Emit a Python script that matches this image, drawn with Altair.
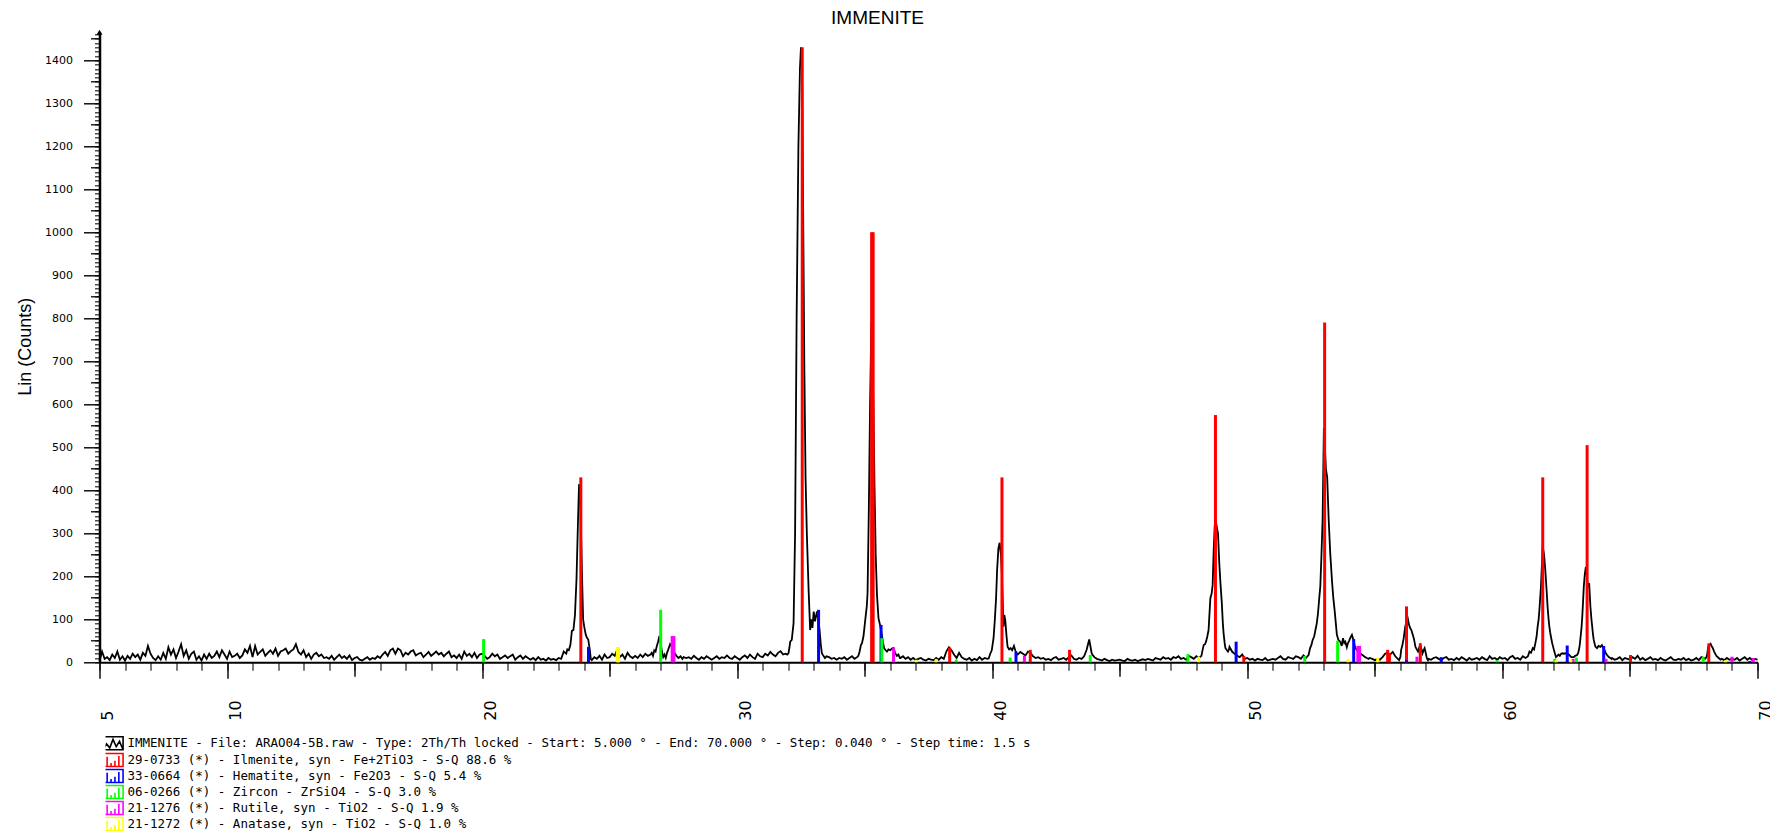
import altair as alt
import pandas as pd

N = None

# ---------------- texts ----------------
title_text = "IMMENITE"
y_title = "Lin (Counts)"
scan_label = ("IMMENITE - File: ARAO04-5B.raw - Type: 2Th/Th locked - Start: 5.000 ° - "
              "End: 70.000 ° - Step: 0.040 ° - Step time: 1.5 s")
phase_labels = [
    "29-0733 (*) - Ilmenite, syn - Fe+2TiO3 - S-Q 88.6 %",
    "33-0664 (*) - Hematite, syn - Fe2O3 - S-Q 5.4 %",
    "06-0266 (*) - Zircon - ZrSiO4 - S-Q 3.0 %",
    "21-1276 (*) - Rutile, syn - TiO2 - S-Q 1.9 %",
    "21-1272 (*) - Anatase, syn - TiO2 - S-Q 1.0 %",
]
phase_colors = ["#ff0000", "#0000ff", "#00ff00", "#ff00ff", "#ffff00"]

x_label_values = [5, 10, 20, 30, 40, 50, 60, 70]
y_label_values = [0, 100, 200, 300, 400, 500, 600, 700, 800, 900, 1000, 1100, 1200, 1300, 1400]

# ---------------- measured pattern: background read at 0.1 deg (None = see peak tables) ----------------
bg_start = 5.0
bg_step = 0.1
bg_counts = [
    3, 25, 8, 12, 5, 18, 10, 25, 6, 14,          # 5
    4, 15, 8, 20, 12, 18, 6, 22, 15, 38,         # 6
    20, 10, 5, 14, 6, 22, 8, 35, 18, 30,         # 7
    10, 25, 42, 15, 28, 8, 20, 25, 6, 14,        # 8
    4, 18, 8, 20, 10, 15, 25, 12, 28, 18,        # 9
    8, 25, 12, 15, 20, 10, 16, 30, 22, 38,       # 10
    12, 38, 18, 24, 30, 15, 22, 28, 20, 32,      # 11
    15, 25, 28, 32, 20, 26, 30, 42, 24, 18,      # 12
    28, 12, 20, 8, 18, 22, 14, 18, 10, 12,       # 13
    8, 15, 6, 12, 18, 10, 14, 8, 16, 5,          # 14
    10, 12, 6, 4, 8, 12, 6, 10, 8, 14,           # 15
    10, 18, 24, 15, 28, 32, 20, 32, 28, 14,      # 16
    22, 18, 25, 28, 16, 20, 22, 12, 18, 24,      # 17
    15, 20, 25, 18, 22, 14, 20, 25, 12, 16,      # 18
    10, 18, 8, 25, 15, 20, 12, 22, 10, 18,       # 19
    20, 15, 8, 12, 20, 14, 18, 8, 12, 16,        # 20
    10, 14, 18, 6, 12, 16, 8, 14, 10, 6,         # 21
    10, 5, 12, 6, 8, 4, 10, 6, 8, 5,             # 22
    10, 8, 25, N, N, N, N, N, N, N,              # 23
    N, N, N, 5, 12, 8, 15, 6, 18, 10,            # 24
    12, 20, 15, 30, 12, 18, 8, 22, 14, 10,       # 25
    15, 10, 18, 12, 20, 15, N, N, N, N,          # 26
    N, N, N, N, N, N, N, N, N, 12,               # 27
    10, 12, 8, 15, 10, 6, 12, 8, 14, 10,         # 28
    6, 10, 14, 8, 12, 10, 16, 10, 8, 14,         # 29
    10, 6, 12, 16, 10, 18, 12, 8, 20, 14,        # 30
    12, 20, 16, 24, 18, 14, 22, 26, 18, N,       # 31
    N, N, N, N, N, N, N, N, N, N,                # 32
    N, N, N, N, N, N, 12, 8, 10, 6,              # 33
    10, 8, 12, 6, 10, 14, 8, N, N, N,            # 34
    N, N, N, N, N, N, N, N, N, N,                # 35
    N, N, N, N, 10, 14, 8, 12, 6, 10,            # 36
    5, 8, 10, 6, 4, 8, 6, 5, 10, 6,              # 37
    12, 8, 25, 35, 28, 18, 10, 22, 12, 8,        # 38
    6, 10, 4, 8, 5, 12, 6, 10, N, N,             # 39
    N, N, N, N, N, N, N, N, N, N,                # 40
    N, 24, 20, 16, 25, 22, 14, 10, 12, 8,        # 41
    10, 6, 8, 5, 10, 12, 6, 8, 10, 6,            # 42
    12, 16, 8, 6, 10, 8, 14, 29, 53, 20,         # 43
    12, 8, 6, 4, 8, 5, 3, 6, 4, 5,               # 44
    6, 4, 3, 8, 5, 4, 6, 3, 5, 7,                # 45
    5, 8, 6, 4, 10, 8, 6, 12, 8, 10,             # 46
    6, 12, 10, 14, 8, 10, 6, 15, 12, 8,          # 47
    14, 10, N, N, N, N, N, N, N, N,              # 48
    N, N, N, 36, 25, 20, 15, 12, 18, 8,          # 49
    10, 6, 8, 4, 8, 6, 5, 10, 4, 6,              # 50
    8, 6, 10, 14, 8, 6, 12, 10, 8, 14,           # 51
    12, 8, 16, 10, N, N, N, N, N, N,             # 52
    N, N, N, N, N, N, N, N, N, N,                # 53
    N, N, N, N, N, N, N, N, 10, 8,               # 54
    5, 8, 6, 12, 20, 22, 18, 24, 14, N,          # 55
    N, N, N, N, N, N, N, N, N, N,                # 56
    N, 8, 6, 10, 12, 8, 5, 10, 12, 6,            # 57
    8, 5, 10, 6, 12, 8, 4, 10, 6, 8,             # 58
    10, 6, 12, 8, 5, 14, 8, 10, 6, 12,           # 59
    8, 10, 5, 12, 15, 8, 10, 6, 14, N,           # 60
    N, N, N, N, N, N, N, N, N, N,                # 61
    N, N, N, N, 20, 21, 18, 12, N, N,            # 62
    N, N, N, N, N, N, N, N, N, N,                # 63
    N, N, N, 10, 6, 8, 12, 5, 10, 8,             # 64
    6, 12, 8, 15, 6, 10, 5, 8, 12, 6,            # 65
    8, 5, 10, 6, 4, 8, 12, 6, 5, 8,              # 66
    6, 10, 5, 8, 4, 6, 10, 5, 12, N,             # 67
    N, N, N, N, N, N, 8, 5, 10, 6,               # 68
    8, 6, 10, 4, 8, 12, 6, 10, 5, 8,             # 69
    6,                                           # 70
]
assert len(bg_counts) == 651, len(bg_counts)

# ---------------- measured pattern: peak regions (2theta, counts) ----------------
peak_23 = [(23.30, 20), (23.34, 30), (23.40, 28), (23.46, 40), (23.52, 73), (23.58, 75), (23.64, 110),
           (23.70, 193), (23.76, 330), (23.80, 414), (23.84, 402), (23.88, 300), (23.92, 193),
           (23.96, 100), (24.00, 84), (24.06, 65), (24.10, 58), (24.16, 53), (24.22, 30), (24.26, 8)]
peak_27 = [(26.60, 18), (26.65, 22), (26.70, 15), (26.75, 28), (26.80, 25), (26.85, 38), (26.90, 48),
           (26.95, 61), (27.00, 45), (27.05, 25), (27.10, 12), (27.15, 18), (27.20, 10), (27.25, 22),
           (27.30, 30), (27.37, 42), (27.42, 38), (27.48, 30), (27.55, 21), (27.62, 15), (27.70, 10),
           (27.78, 14), (27.85, 8)]
peak_32 = [(31.90, 20), (31.96, 18), (32.01, 21), (32.05, 35), (32.08, 48), (32.14, 52), (32.21, 91),
           (32.27, 300), (32.33, 800), (32.40, 1200), (32.46, 1380), (32.50, 1430), (32.54, 1400),
           (32.58, 1100), (32.63, 700), (32.68, 430), (32.73, 300), (32.80, 168), (32.86, 75),
           (32.90, 100), (32.95, 80), (33.00, 118), (33.05, 95), (33.10, 110), (33.13, 118),
           (33.18, 100), (33.23, 75), (33.28, 40), (33.32, 21), (33.38, 15), (33.44, 10), (33.50, 14)]
peak_35 = [(34.70, 12), (34.75, 15), (34.80, 25), (34.85, 40), (34.89, 44), (34.95, 60), (35.02, 98),
           (35.08, 130), (35.11, 160), (35.16, 350), (35.21, 600), (35.26, 790), (35.30, 740),
           (35.34, 600), (35.38, 420), (35.43, 250), (35.48, 157), (35.54, 102), (35.60, 87),
           (35.67, 64), (35.72, 45), (35.76, 33), (35.82, 28), (35.87, 25), (35.93, 30), (36.00, 28),
           (36.06, 32), (36.13, 33), (36.19, 22), (36.26, 15), (36.32, 18), (36.38, 10)]
peak_40 = [(39.80, 8), (39.86, 9), (39.92, 20), (39.98, 28), (40.05, 56), (40.10, 98), (40.15, 150),
           (40.19, 215), (40.24, 265), (40.29, 278), (40.34, 250), (40.38, 200), (40.44, 83),
           (40.47, 110), (40.51, 98), (40.56, 60), (40.60, 36), (40.66, 30), (40.72, 33), (40.78, 28),
           (40.85, 38), (40.90, 28), (40.95, 21), (41.00, 18)]
peak_48 = [(48.20, 15), (48.25, 30), (48.29, 40), (48.34, 42), (48.38, 48), (48.43, 60), (48.48, 75),
           (48.55, 149), (48.60, 160), (48.64, 180), (48.68, 260), (48.72, 317), (48.76, 330),
           (48.80, 315), (48.85, 300), (48.90, 230), (48.95, 180), (49.00, 137), (49.04, 90),
           (49.07, 67), (49.11, 45), (49.14, 33), (49.20, 28), (49.24, 25), (49.28, 30)]
peak_53 = [(52.40, 17), (52.46, 33), (52.51, 40), (52.56, 52), (52.62, 60), (52.67, 75), (52.72, 90),
           (52.77, 114), (52.82, 150), (52.86, 176), (52.90, 240), (52.95, 330), (53.00, 545),
           (53.04, 500), (53.08, 450), (53.13, 430), (53.19, 330), (53.25, 253), (53.32, 188),
           (53.37, 150), (53.42, 122), (53.47, 90), (53.51, 64), (53.57, 52), (53.64, 48), (53.70, 38),
           (53.75, 56), (53.80, 45), (53.84, 48), (53.90, 35), (53.94, 44), (53.99, 50), (54.03, 56),
           (54.10, 64), (54.16, 52), (54.23, 33), (54.28, 30), (54.33, 25), (54.38, 28), (54.42, 21),
           (54.48, 18), (54.55, 15), (54.62, 12), (54.68, 10), (54.75, 8)]
peak_56 = [(55.90, 8), (55.95, 5), (56.00, 12), (56.03, 29), (56.08, 40), (56.13, 56), (56.19, 83),
           (56.24, 95), (56.29, 102), (56.33, 90), (56.36, 83), (56.40, 78), (56.43, 75), (56.48, 65),
           (56.53, 55), (56.59, 36), (56.64, 30), (56.69, 25), (56.74, 35), (56.78, 40), (56.83, 30),
           (56.87, 21), (56.91, 28), (56.95, 33), (57.00, 20), (57.04, 9), (57.08, 5)]
peak_61 = [(60.90, 10), (60.95, 12), (61.00, 14), (61.06, 25), (61.12, 22), (61.19, 33), (61.24, 30),
           (61.29, 44), (61.34, 60), (61.38, 83), (61.42, 100), (61.45, 122), (61.51, 176),
           (61.55, 230), (61.58, 270), (61.62, 255), (61.64, 246), (61.68, 215), (61.71, 188),
           (61.74, 160), (61.77, 129), (61.81, 100), (61.84, 83), (61.87, 70), (61.90, 60),
           (61.95, 45), (62.00, 33), (62.05, 22), (62.10, 12), (62.15, 15), (62.20, 18), (62.25, 15),
           (62.30, 20), (62.36, 21)]
peak_63 = [(62.80, 12), (62.85, 15), (62.93, 17), (62.97, 22), (63.00, 29), (63.03, 40), (63.06, 56),
           (63.10, 80), (63.13, 106), (63.16, 140), (63.19, 176), (63.23, 205), (63.27, 222),
           (63.31, 200), (63.35, 176), (63.40, 184), (63.45, 129), (63.49, 100), (63.52, 83),
           (63.55, 65), (63.58, 52), (63.62, 42), (63.65, 36), (63.71, 33), (63.77, 38), (63.84, 36),
           (63.90, 40), (63.95, 33), (64.00, 29), (64.05, 22), (64.10, 17), (64.17, 12), (64.23, 10),
           (64.28, 8)]
peak_68 = [(67.90, 10), (67.95, 8), (68.00, 12), (68.03, 20), (68.07, 36), (68.11, 40), (68.16, 43),
           (68.20, 38), (68.25, 33), (68.30, 25), (68.35, 19), (68.40, 14), (68.48, 10), (68.55, 6)]
peak_tables = [peak_23, peak_27, peak_32, peak_35, peak_40, peak_48, peak_53, peak_56,
               peak_61, peak_63, peak_68]

# ---------------- reference sticks (2theta, intensity) ----------------
ilmenite_sticks = [(23.87, 430), (32.55, 1430), (35.27, 1000), (35.33, 1000), (38.33, 34),
                   (40.38, 430), (41.49, 29), (43.03, 29), (48.75, 575), (49.86, 15), (53.03, 790),
                   (55.50, 29), (55.57, 22), (56.24, 130), (56.78, 44), (61.58, 430), (63.32, 505),
                   (65.02, 17), (68.09, 44)]
hematite_sticks = [(24.17, 36), (33.19, 122), (35.64, 87), (40.93, 25), (49.56, 48), (54.17, 54),
                   (56.24, 5), (57.60, 12), (62.54, 39), (63.97, 38), (69.70, 3)]
zircon_sticks = [(20.06, 54), (27.00, 122), (35.67, 56), (38.59, 6), (40.70, 11), (43.84, 17),
                 (47.67, 19), (52.25, 15), (53.54, 50), (59.79, 5), (62.05, 8), (62.90, 11), (67.87, 13)]
rutile_sticks = [(27.45, 61), (27.52, 61), (36.13, 33), (41.26, 15), (54.33, 38), (54.40, 38),
                 (56.65, 13), (62.77, 8), (64.06, 8), (69.00, 13), (69.83, 10)]
anatase_sticks = [(25.30, 35), (25.35, 35), (37.02, 6), (37.80, 8), (48.09, 13), (53.95, 7),
                  (55.11, 10), (62.11, 5), (62.68, 6), (68.75, 5)]
phase_sticks = [ilmenite_sticks, hematite_sticks, zircon_sticks, rutile_sticks, anatase_sticks]

# ---------------- tables ----------------
pts = [(round(bg_start + i * bg_step, 2), c) for i, c in enumerate(bg_counts) if c is not None]
for tbl in peak_tables:
    pts.extend(tbl)
pts.sort(key=lambda p: p[0])
spec_df = pd.DataFrame({"tt": [p[0] for p in pts], "counts": [p[1] for p in pts],
                        "series": scan_label})

rows = []
for lab, sticks in zip(phase_labels, phase_sticks):
    for t, i in sticks:
        rows.append({"tt": t, "I": i, "phase": lab})
stick_df = pd.DataFrame(rows)

# ---------------- scales & axes ----------------
x_scale = alt.Scale(domain=[5, 70], nice=False, zero=False)
y_scale = alt.Scale(domain=[0, 1465], nice=False, zero=False)

x_main = alt.Axis(orient="bottom", values=x_label_values, tickSize=16, tickWidth=1.4,
                  tickColor="black", domain=True, domainColor="black", domainWidth=2,
                  labelAngle=270, labelAlign="left", labelBaseline="top", labelPadding=42,
                  labelFont="DejaVu Sans", labelFontSize=16, labelColor="black",
                  labelFlush=False, labelOverlap=False, grid=False, title=None, format="d")
x_mid = alt.Axis(orient="bottom", values=[15, 25, 35, 45, 55, 65], tickSize=14, tickWidth=1.4,
                 tickColor="black", labels=False, domain=False, grid=False, title=None)
x_minor = alt.Axis(orient="bottom", values=list(range(5, 71)), tickSize=8, tickWidth=1.2,
                   tickColor="#222222", labels=False, domain=False, grid=False, title=None)

y_main = alt.Axis(orient="left", values=y_label_values, tickSize=16, tickWidth=1.4,
                  tickColor="black", domain=True, domainColor="black", domainWidth=2.5,
                  labelFont="DejaVu Sans", labelFontSize=11, labelColor="black", labelPadding=11,
                  labelFlush=False, labelOverlap=False, grid=False, format="d",
                  title=y_title, titleFont="Liberation Sans", titleFontSize=18,
                  titleFontWeight="normal", titleColor="black", titleAngle=270,
                  titleX=-74, titleY=314, titleAlign="center", titleBaseline="middle")
y_mid = alt.Axis(orient="left", values=list(range(50, 1465, 100)), tickSize=9, tickWidth=1.3,
                 tickColor="black", labels=False, domain=False, grid=False, title=None)
y_minor = alt.Axis(orient="left", values=list(range(0, 1461, 10)), tickSize=5, tickWidth=1.2,
                   tickColor="#222222", labels=False, domain=False, grid=False, title=None)

box = "M-1.55,-1H1.55V1H-1.55Z"
wave_icon = box + " M-1.55,1L-1,0.1L-0.5,0.7L0,-0.6L0.5,0.5L1,-0.3L1.55,1"
stick_icon = box + " M-0.9,1V-0.5 M-0.3,1V0.45 M0.3,1V0.1 M0.9,1V-0.6"

common_legend = dict(title=None, orient="none", direction="vertical", padding=0,
                     symbolSize=169, symbolStrokeWidth=1.6, symbolFillColor="transparent",
                     labelFont="DejaVu Sans Mono", labelFontSize=12.5, labelColor="black",
                     labelLimit=0, labelOffset=7, rowPadding=0, clipHeight=16, legendX=6)

minor_layer = alt.Chart(stick_df).mark_point(opacity=0).encode(
    x=alt.X("tt:Q", scale=x_scale, axis=x_minor),
    y=alt.Y("I:Q", scale=y_scale, axis=y_minor),
)

line_layer = alt.Chart(spec_df).mark_line(strokeWidth=1.8).encode(
    x=alt.X("tt:Q", scale=x_scale, axis=x_main),
    y=alt.Y("counts:Q", scale=y_scale, axis=y_main),
    color=alt.Color("series:N", scale=alt.Scale(domain=[scan_label], range=["#000000"]),
                    legend=alt.Legend(symbolType=wave_icon, legendY=703, **common_legend)),
    order=alt.Order("tt:Q"),
)

stick_layer = alt.Chart(stick_df).mark_rule(strokeWidth=3).encode(
    x=alt.X("tt:Q", scale=x_scale, axis=x_mid),
    y=alt.Y("I:Q", scale=y_scale, axis=y_mid),
    y2=alt.datum(0),
    color=alt.Color("phase:N", scale=alt.Scale(domain=phase_labels, range=phase_colors),
                    legend=alt.Legend(symbolType=stick_icon, legendY=719.7, **common_legend)),
)

arrow_df = pd.DataFrame({"tt": [5], "v": [1465]})
arrow_layer = alt.Chart(arrow_df).mark_point(shape="triangle-up", filled=True, color="black",
                                             opacity=1, size=35).encode(
    x=alt.X("tt:Q", scale=x_scale, axis=None),
    y=alt.Y("v:Q", scale=y_scale, axis=None),
)

chart = alt.layer(minor_layer, line_layer, stick_layer, arrow_layer).resolve_scale(
    color="independent"
).resolve_axis(
    x="independent", y="independent"
).properties(
    width=1658, height=630,
    autosize=alt.AutoSizeParams(type="none"),
    padding={"left": 99.5, "top": 32.3, "right": 12.5, "bottom": 171.7},
    title=alt.TitleParams(text=title_text, font="Liberation Sans", fontSize=19,
                          fontWeight="normal", color="black", anchor="middle", dx=-51, dy=21,
                          offset=8, baseline="alphabetic"),
    background="white",
).configure_view(stroke=None)

chart.save("out.html", embed_options={"renderer": "svg", "actions": False})
